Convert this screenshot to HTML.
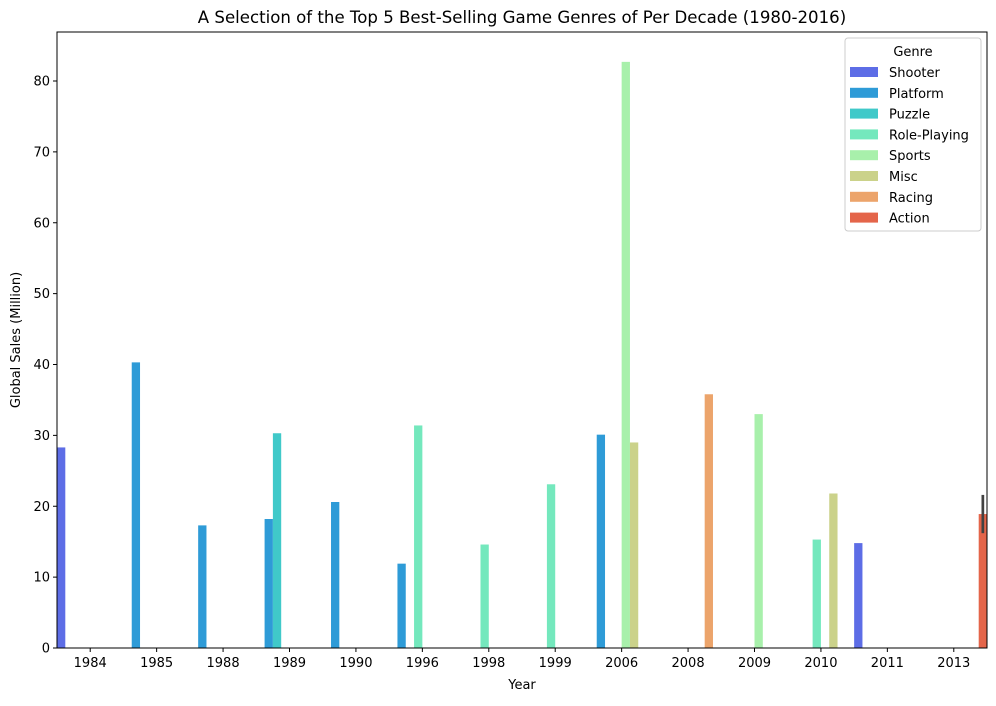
<!DOCTYPE html>
<html><head><meta charset="utf-8"><style>
body{margin:0;background:#fff;font-family:"Liberation Sans","DejaVu Sans",sans-serif;}
svg text{font-family:"DejaVu Sans","Liberation Sans",sans-serif;}
</style></head><body>
<svg id="c" width="996" height="701" xmlns="http://www.w3.org/2000/svg"></svg>
<script>
const years=["1984","1985","1988","1989","1990","1996","1998","1999","2006","2008","2009","2010","2011","2013"];
const genres=["Shooter","Platform","Puzzle","Role-Playing","Sports","Misc","Racing","Action"];
const colors=["#5d6de6","#2e9bd7","#40c9c9","#74e8bd","#a8f0ab","#cbd28a","#eca46b","#e4654a"];
const barYear=["1984","1985","1988","1989","1989","1990","1996","1996","1998","1999","2006","2006","2006","2008","2009","2010","2010","2011","2013"];
const barGenre=["Shooter","Platform","Platform","Platform","Puzzle","Platform","Platform","Role-Playing","Role-Playing","Role-Playing","Platform","Sports","Misc","Racing","Sports","Role-Playing","Misc","Shooter","Action"];
const barValue=[28.3,40.3,17.3,18.2,30.3,20.6,11.9,31.4,14.6,23.1,30.1,82.7,29.0,35.8,33.0,15.3,21.8,14.8,18.9];
const errLow=[null,null,null,null,null,null,null,null,null,null,null,null,null,null,null,null,null,null,16.2];
const errHigh=[null,null,null,null,null,null,null,null,null,null,null,null,null,null,null,null,null,null,21.6];
const yTicks=[0,10,20,30,40,50,60,70,80];

const NS="http://www.w3.org/2000/svg";
const svg=document.getElementById('c');
const L=57,R=987,T=32,B=648;
const step=(R-L)/years.length;
const xc=y=>L+(years.indexOf(y)+0.5)*step;
const yv=v=>B-v*(B-81)/80;
const bw=step/8;
function el(tag,attrs,parent){const e=document.createElementNS(NS,tag);for(const k in attrs)e.setAttribute(k,attrs[k]);(parent||svg).appendChild(e);return e;}
function txt(s,attrs){const e=el('text',attrs);e.textContent=s;return e;}

barValue.forEach((v,i)=>{
  const g=genres.indexOf(barGenre[i]);
  const x=xc(barYear[i])+(g-4)*bw;
  const r=el('rect',{x:x,y:yv(v),width:bw,height:B-yv(v),fill:colors[g]});
  
  
  if(errLow[i]!=null){
    const e=el('line',{x1:x+bw/2,x2:x+bw/2,y1:yv(errLow[i]),y2:yv(errHigh[i]),stroke:'#424242','stroke-width':2.7});
    
    
  }
});

const ax=el('path',{d:`M${L},${T}V${B}H${R}V${T}H${L}Z`,fill:'none',stroke:'#000','stroke-width':1});


yTicks.forEach(t=>{
  el('line',{x1:L-4,x2:L,y1:yv(t),y2:yv(t),stroke:'#000'});
  const e=txt(String(t),{x:L-7,y:yv(t)+4.5,'text-anchor':'end','font-size':13});
  
});
years.forEach(y=>{
  el('line',{x1:xc(y),x2:xc(y),y1:B,y2:B+4,stroke:'#000'});
  const e=txt(y,{x:xc(y),y:B+19,'text-anchor':'middle','font-size':13});
  
});
let e=txt('Year',{x:(L+R)/2,y:689,'text-anchor':'middle','font-size':13});

e=txt('Global Sales (Million)',{x:0,y:0,'text-anchor':'middle','font-size':13,transform:`translate(20,${(T+B)/2}) rotate(-90)`});

e=txt('A Selection of the Top 5 Best-Selling Game Genres of Per Decade (1980-2016)',{x:(L+R)/2,y:23,'text-anchor':'middle','font-size':16.6});


const lg=el('g',{});

el('rect',{x:845,y:38,width:136,height:193,rx:3,fill:'#fff','fill-opacity':0.8,stroke:'#ccc'},lg);
const lt=el('text',{x:913,y:56,'text-anchor':'middle','font-size':13},lg);lt.textContent='Genre';
genres.forEach((g,i)=>{
  const y=72+i*20.8;
  const s=el('rect',{x:850,y:y-5,width:28,height:10,fill:colors[i]},lg);
  
  
  const t=el('text',{x:889,y:y+5,'font-size':13},lg);t.textContent=g;
  
  
});
</script>
</body></html>
